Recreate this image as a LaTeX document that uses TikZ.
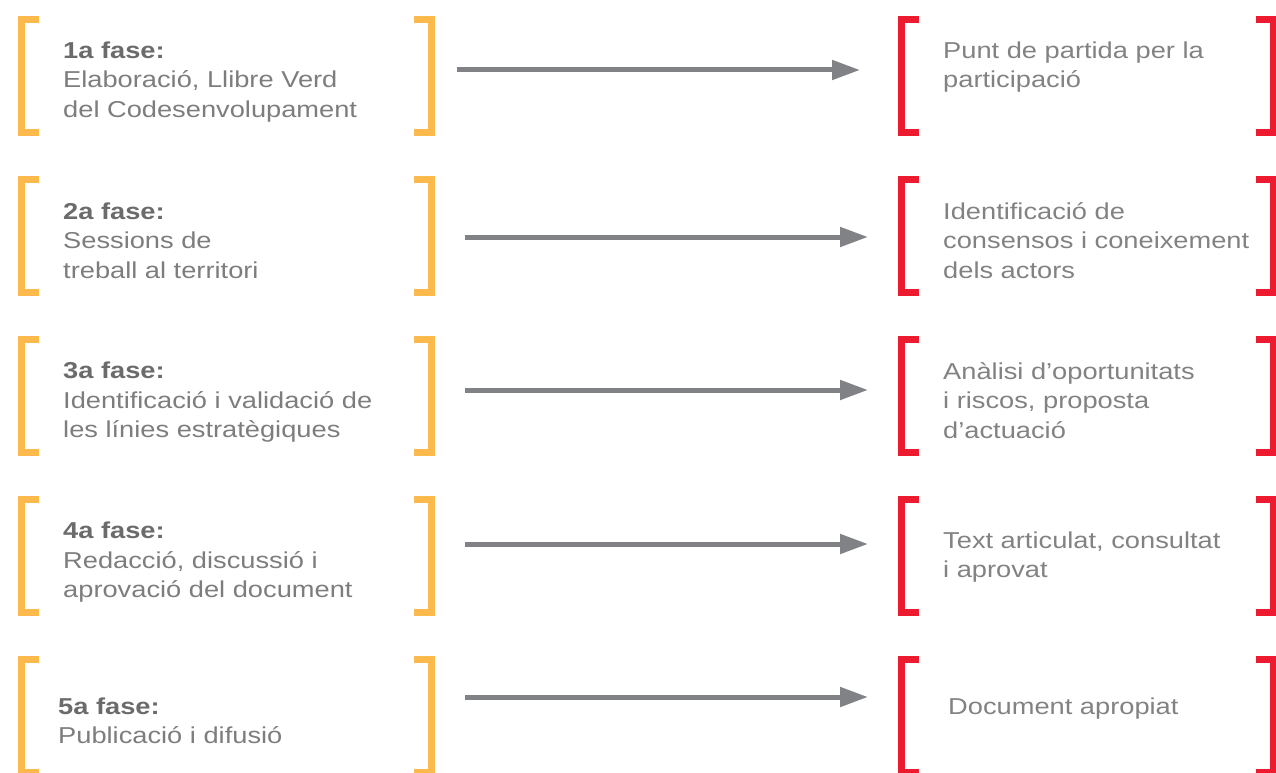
\documentclass[tikz,border=0pt]{standalone}
\usepackage{fontspec}
\setmainfont{Liberation Sans}[FakeStretch=1.185]
\usetikzlibrary{arrows.meta}
\definecolor{orng}{HTML}{FDBA4C}
\definecolor{rd}{HTML}{ED1B2F}
\definecolor{txt}{HTML}{7D7D7D}
\definecolor{txtr}{HTML}{828282}
\definecolor{txtb}{HTML}{6B6B6B}
\definecolor{arrc}{HTML}{808285}
\tikzset{
  lbrack/.pic={\draw[line width=7pt,line join=miter] (21,3.5) -- (3.5,3.5) -- (3.5,116.5) -- (21,116.5);},
  rbrack/.pic={\draw[line width=7pt,line join=miter] (-21,3.5) -- (-3.5,3.5) -- (-3.5,116.5) -- (-21,116.5);},
  ln/.style={anchor=base west,inner sep=0pt,text=txt,font=\fontsize{23}{29.5}\selectfont},
  lnr/.style={ln,text=txtr},
  hd/.style={ln,text=txtb,font=\fontsize{23}{29.5}\selectfont\bfseries},
  conn/.style={draw=arrc,line width=5pt,-{Triangle[length=28pt,width=19pt]}}
}
\begin{document}
\begin{tikzpicture}[x=1pt,y=-1pt]
\useasboundingbox (0,0) rectangle (1276,773);
% brackets
\foreach \t in {16,176,336,496,656}{
  \pic[orng] at (18,\t) {lbrack};
  \pic[orng] at (435,\t) {rbrack};
  \pic[rd] at (898,\t) {lbrack};
  \pic[rd] at (1276.5,\t) {rbrack};
}
% row 1
\node[hd] (h1) at (63,58.5) {1a fase:};
\node[ln] (l1a) at (63,88) {Elaboració, Llibre Verd};
\node[ln] (l1b) at (63,117.5) {del Codesenvolupament};
\node[lnr] (r1a) at (943,58.5) {Punt de partida per la};
\node[lnr] (r1b) at (943,88) {participació};
% row 2
\node[hd] (h2) at (63,219) {2a fase:};
\node[ln] (l2a) at (63,248.5) {Sessions de};
\node[ln] (l2b) at (63,278) {treball al territori};
\node[lnr] (r2a) at (943,219) {Identificació de};
\node[lnr] (r2b) at (943,248.5) {consensos i coneixement};
\node[lnr] (r2c) at (943,278) {dels actors};
% row 3
\node[hd] (h3) at (63,378.5) {3a fase:};
\node[ln] (l3a) at (63,408) {Identificació i validació de};
\node[ln] (l3b) at (63,437.5) {les línies estratègiques};
\node[lnr] (r3a) at (943,379) {Anàlisi d’oportunitats};
\node[lnr] (r3b) at (943,408.5) {i riscos, proposta};
\node[lnr] (r3c) at (943,438) {d’actuació};
% row 4
\node[hd] (h4) at (63,538.5) {4a fase:};
\node[ln] (l4a) at (63,568) {Redacció, discussió i};
\node[ln] (l4b) at (63,597.5) {aprovació del document};
\node[lnr] (r4a) at (943,548) {Text articulat, consultat};
\node[lnr] (r4b) at (943,577.5) {i aprovat};
% row 5
\node[hd] (h5) at (58,714) {5a fase:};
\node[ln] (l5a) at (58,743.5) {Publicació i difusió};
\node[lnr] (r5a) at (948,714) {Document apropiat};
% arrows
\coordinate (s1) at (457,70);  \coordinate (e1) at (860,70);
\coordinate (s2) at (465,237); \coordinate (e2) at (868,237);
\coordinate (s3) at (465,390); \coordinate (e3) at (868,390);
\coordinate (s4) at (465,544); \coordinate (e4) at (868,544);
\coordinate (s5) at (465,697); \coordinate (e5) at (868,697);
\foreach \i in {1,...,5}{\draw[conn] (s\i) -- (e\i);}
\end{tikzpicture}
\end{document}
